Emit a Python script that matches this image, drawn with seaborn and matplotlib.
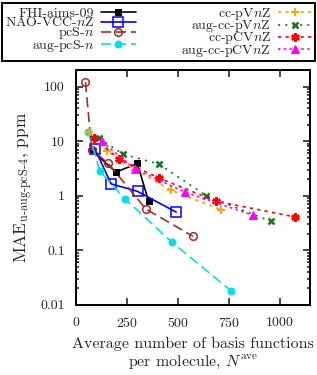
import matplotlib
matplotlib.use("Agg")
import matplotlib.pyplot as plt
from matplotlib.ticker import FuncFormatter, LogLocator, MultipleLocator, NullFormatter
import seaborn as sns

sns.set_theme(style="ticks")
plt.rcParams["font.family"] = ["cmr10", "DejaVu Serif"]
plt.rcParams["mathtext.fontset"] = "cm"
plt.rcParams["axes.unicode_minus"] = False
plt.rcParams["axes.formatter.use_mathtext"] = True

# ── Data ───────────────────────────────────────────────────────────────────
fhi_x = [82, 196, 301, 356]
fhi_y = [6.5, 2.7, 3.9, 0.8]

nao_x = [93, 172, 302, 492]
nao_y = [7.2, 1.65, 1.2, 0.5]

pcs_x = [46, 77, 158, 343, 575]
pcs_y = [120, 7.0, 3.9, 0.57, 0.18]

augpcs_x = [60, 118, 240, 472, 763]
augpcs_y = [14.5, 2.8, 0.88, 0.14, 0.018]

ccpv_x = [65, 150, 290, 469, 714]
ccpv_y = [15, 6.6, 3.0, 1.25, 0.55]

augccpv_x = [114, 229, 407, 640, 956]
augccpv_y = [11.3, 5.8, 3.8, 1.0, 0.34]

ccpcv_x = [90, 211, 408, 690, 1074]
ccpcv_y = [11.3, 4.7, 2.1, 0.79, 0.41]

augccpcv_x = [126, 289, 536, 869]
augccpcv_y = [9.9, 3.1, 1.16, 0.44]

series = [
    ("FHI-aims-09", fhi_x, fhi_y,
     dict(color="black", marker="s", ms=5, mfc="black", mec="black", ls="-")),
    ("NAO-VCC-$n$Z", nao_x, nao_y,
     dict(color="#0000ff", marker="s", ms=6.5, mfc="none", mec="#0000ff", mew=1.1, ls="-")),
    ("pcS-$n$", pcs_x, pcs_y,
     dict(color="#a52a2a", marker="o", ms=5.5, mfc="none", mec="#a52a2a", mew=1.1,
          dashes=(6, 3))),
    ("aug-pcS-$n$", augpcs_x, augpcs_y,
     dict(color="#00e0e8", marker="o", ms=5, mfc="#00e0e8", mec="#00e0e8",
          dashes=(6, 3))),
    ("cc-pV$n$Z", ccpv_x, ccpv_y,
     dict(color="#ffa500", marker="+", ms=6, mec="#ffa500", mew=1.4,
          dashes=(2, 2.5))),
    ("aug-cc-pV$n$Z", augccpv_x, augccpv_y,
     dict(color="#117711", marker="x", ms=5, mec="#117711", mew=1.8,
          dashes=(1.2, 3.2))),
    ("cc-pCV$n$Z", ccpcv_x, ccpcv_y,
     dict(color="#ff0000", marker=(6, 2, 0), ms=6, mec="#ff0000", mew=1.8,
          dashes=(2, 2.5))),
    ("aug-cc-pCV$n$Z", augccpcv_x, augccpcv_y,
     dict(color="#ff00ff", marker="^", ms=6, mfc="#ff00ff", mec="#ff00ff",
          dashes=(1.5, 2))),
]

fig = plt.figure(figsize=(3.17, 3.75), dpi=100)
ax = fig.add_axes([0.240, 0.187, 0.738, 0.626])

for label, xs, ys, style in series:
    sns.lineplot(x=xs, y=ys, ax=ax, sort=False, label=label, lw=1.2, **style)

ax.set_yscale("log")
ax.set_xlim(0, 1150)
ax.set_ylim(0.01, 200)
ax.xaxis.set_major_locator(MultipleLocator(250))
ax.yaxis.set_major_locator(LogLocator(base=10))
ax.yaxis.set_minor_locator(LogLocator(base=10, subs=range(2, 10)))
ax.yaxis.set_minor_formatter(NullFormatter())
ax.yaxis.set_major_formatter(FuncFormatter(lambda v, p: f"{v:g}"))

ax.tick_params(which="both", direction="in", top=True, right=True,
               labelsize=10, width=1.2, pad=8)
ax.tick_params(which="major", length=5)
ax.tick_params(which="minor", length=2.5)
for sp in ax.spines.values():
    sp.set_linewidth(1.4)
    sp.set_color("black")

ax.set_xlabel("Average number of basis functions\nper molecule, $N^{\\rm ave}$",
              fontsize=11.5, labelpad=5, linespacing=1.2)
ax.set_ylabel("MAE$_{\\rm u\\text{-}aug\\text{-}pcS\\text{-}4}$, ppm", fontsize=12.5, labelpad=4)

handles, labels = ax.get_legend_handles_labels()
ax.get_legend().remove()
leg = fig.legend(handles, labels, ncol=2, loc="upper left",
                 bbox_to_anchor=(0.006, 0.845, 0.988, 0.147), mode="expand",
                 markerfirst=False, fontsize=10, handlelength=2.5,
                 handleheight=0.5, handletextpad=0.5, labelspacing=-0.27,
                 columnspacing=0.8, borderpad=0.2, borderaxespad=0,
                 fancybox=False, framealpha=1, edgecolor="black")
leg.get_frame().set_linewidth(1.4)

fig.savefig("out.png", dpi=100)
